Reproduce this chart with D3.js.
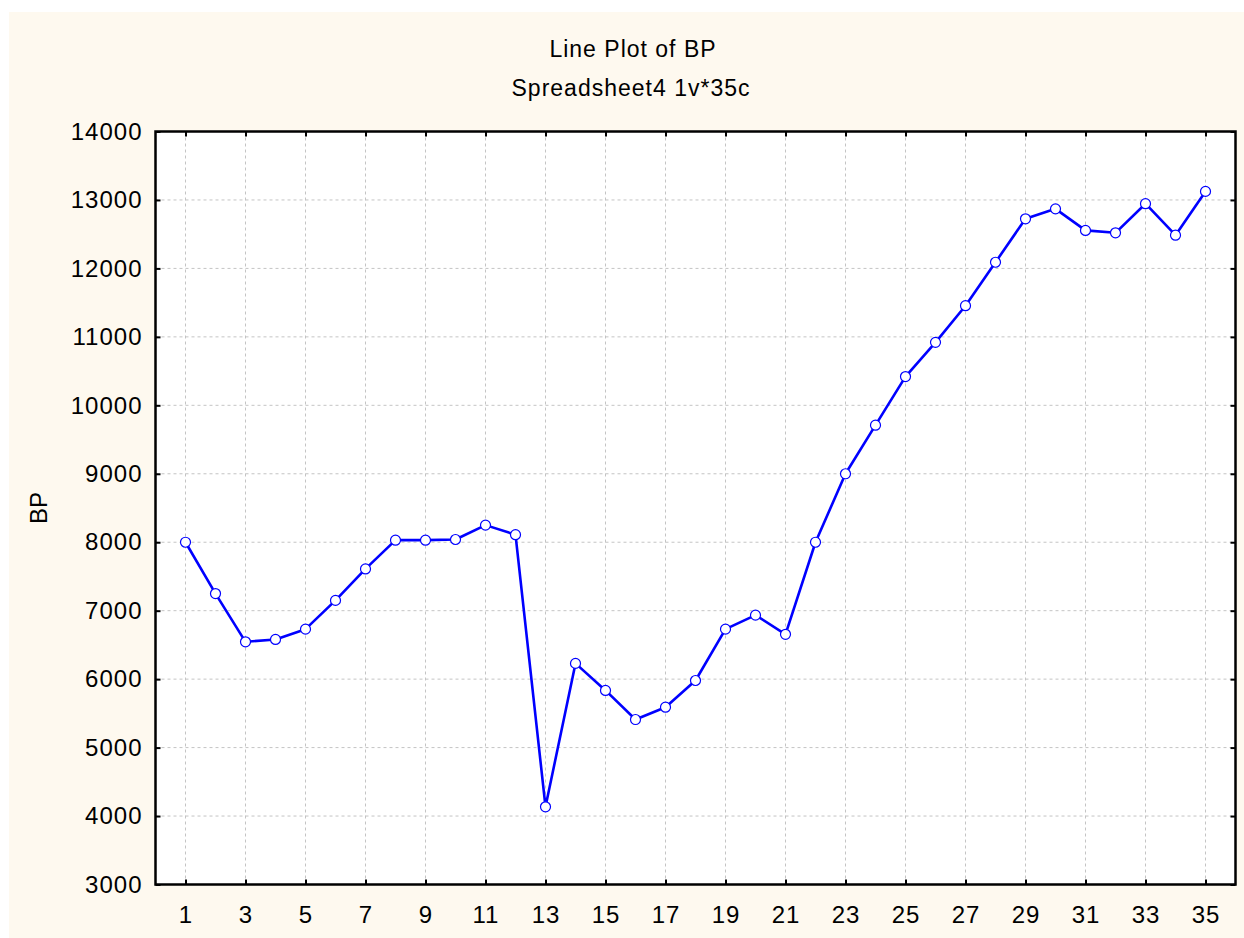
<!DOCTYPE html>
<html lang="en">
	<head>
		<meta charset="utf-8">
		<title>Line Plot of BP</title>
		<script src="https://cdn.jsdelivr.net/npm/d3@7"></script>
		<style type="text/css">
			body { margin: 0; background: #fff; }
			text { font-family: "Liberation Sans", Arial, sans-serif; fill: #000; }
		</style>
	</head>
	<body>
		<script type="text/javascript">

			//Data
			let cases = d3.range(1, 36);
			let bp = [8000, 7250, 6545, 6580, 6730, 7150, 7610, 8030, 8030, 8040,
					  8250, 8110, 4135, 6230, 5835, 5410, 5590, 5980, 6730, 6935,
					  6655, 8000, 9000, 9710, 10420, 10920, 11455, 12090, 12725, 12870,
					  12555, 12520, 12945, 12485, 13125];
			let xTicks = d3.range(1, 36, 2);
			let yTicks = d3.range(3000, 14001, 1000);
			let title = "Line Plot of BP";
			let subtitle = "Spreadsheet4 1v*35c";
			let yLabel = "BP";

			//Width and height
			let w = 1244;
			let h = 938;
			let pLeft = 155.5, pRight = 1235.5, pTop = 131.5, pBottom = 884.5;

			let x = d3.scaleLinear().domain([0, 36]).range([pLeft, pRight]);
			let y = d3.scaleLinear().domain([3000, 14000]).range([pBottom, pTop]);

			let svg = d3.select("body")
						.append("svg")
						.attr("width", w)
						.attr("height", h);

			//Cream backdrop
			svg.append("rect")
			   .attr("x", 9).attr("y", 12)
			   .attr("width", w - 9).attr("height", h - 12)
			   .attr("fill", "#fef9ef");

			//Plot area
			svg.append("rect")
			   .attr("x", pLeft).attr("y", pTop)
			   .attr("width", pRight - pLeft).attr("height", pBottom - pTop)
			   .attr("fill", "#fff");

			//Grid lines
			svg.append("g").selectAll("line")
			   .data(xTicks).enter().append("line")
			   .attr("x1", d => x(d)).attr("x2", d => x(d))
			   .attr("y1", pTop).attr("y2", pBottom)
			   .attr("stroke", "#c4c4c4").attr("stroke-dasharray", "3,3");
			svg.append("g").selectAll("line")
			   .data(yTicks).enter().append("line")
			   .attr("x1", pLeft).attr("x2", pRight)
			   .attr("y1", d => y(d)).attr("y2", d => y(d))
			   .attr("stroke", "#c4c4c4").attr("stroke-dasharray", "3,3");

			//Axes, ticks pointing inward
			let fontSize = "24px";
			svg.append("g")
			   .attr("transform", "translate(0," + pBottom + ")")
			   .call(d3.axisBottom(x).tickValues(xTicks).tickSize(-5).tickPadding(21).tickFormat(d3.format("d")));
			svg.append("g")
			   .attr("transform", "translate(" + pLeft + ",0)")
			   .call(d3.axisLeft(y).tickValues(yTicks).tickSize(-5).tickPadding(13).tickFormat(d3.format("d")));
			svg.append("g")
			   .attr("transform", "translate(0," + pTop + ")")
			   .call(d3.axisTop(x).tickValues(xTicks).tickSize(-5).tickFormat(""));
			svg.append("g")
			   .attr("transform", "translate(" + pRight + ",0)")
			   .call(d3.axisRight(y).tickValues(yTicks).tickSize(-5).tickFormat(""));

			svg.selectAll(".domain").remove();
			svg.selectAll(".tick line").attr("stroke", "#000").attr("stroke-width", 2);
			svg.selectAll(".tick text")
			   .style("font-size", fontSize)
			   .style("letter-spacing", "1px")
			   .attr("fill", "#000");

			//Frame
			svg.append("rect")
			   .attr("x", pLeft).attr("y", pTop)
			   .attr("width", pRight - pLeft).attr("height", pBottom - pTop)
			   .attr("fill", "none")
			   .attr("stroke", "#000")
			   .attr("stroke-width", 2.5);

			//Line and markers
			let line = d3.line()
						 .x((d, i) => x(cases[i]))
						 .y(d => y(d));
			svg.append("path")
			   .datum(bp)
			   .attr("d", line)
			   .attr("fill", "none")
			   .attr("stroke", "#0000ff")
			   .attr("stroke-width", 2.6)
			   .attr("stroke-linejoin", "round");
			svg.append("g").selectAll("circle")
			   .data(bp).enter().append("circle")
			   .attr("cx", (d, i) => x(cases[i]))
			   .attr("cy", d => y(d))
			   .attr("r", 5)
			   .attr("fill", "#fff")
			   .attr("stroke", "#0000ff")
			   .attr("stroke-width", 1.2);

			//Titles
			svg.append("text")
			   .attr("x", 633).attr("y", 56.5)
			   .attr("text-anchor", "middle")
			   .style("font-size", "23px")
			   .style("letter-spacing", "1px")
			   .text(title);
			svg.append("text")
			   .attr("x", 631).attr("y", 96)
			   .attr("text-anchor", "middle")
			   .style("font-size", "23px")
			   .style("letter-spacing", "1px")
			   .text(subtitle);
			svg.append("text")
			   .attr("transform", "translate(47," + ((pTop + pBottom) / 2) + ") rotate(-90)")
			   .attr("text-anchor", "middle")
			   .style("font-size", fontSize)
			   .text(yLabel);

		</script>
	</body>
</html>
